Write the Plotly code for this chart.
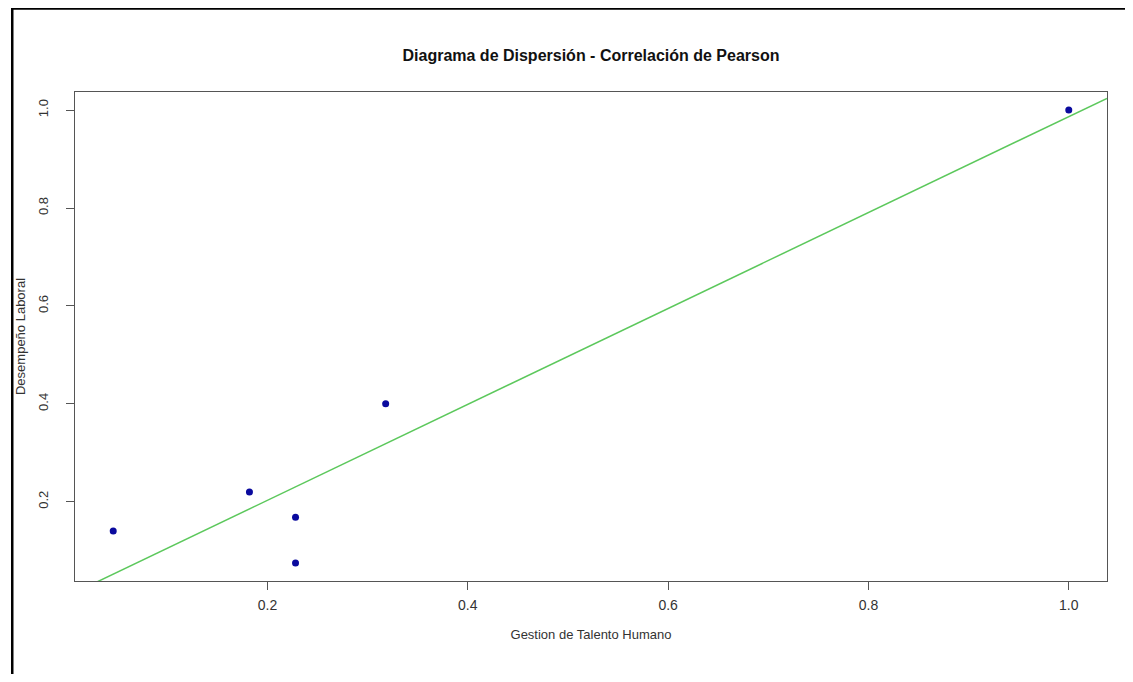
import numpy as np
import plotly.graph_objects as go

# Data
gestion_talento = [0.046, 0.182, 0.228, 0.228, 0.318, 1.0]
desempeno = [0.14, 0.22, 0.168, 0.075, 0.40, 1.0]
tick_vals = [0.2, 0.4, 0.6, 0.8, 1.0]
tick_text = ["0.2", "0.4", "0.6", "0.8", "1.0"]

x = np.array(gestion_talento)
y = np.array(desempeno)

def r_range(v):
    lo, hi = v.min(), v.max()
    d = (hi - lo) * 0.04
    return [lo - d, hi + d]

xr = r_range(x)
yr = r_range(y)

slope, intercept = np.polyfit(x, y, 1)
lx = np.array(xr)
ly = intercept + slope * lx

narrow = "Liberation Sans Narrow, Arial Narrow, Liberation Sans, Arial, sans-serif"
regular = "Liberation Sans, Arial, sans-serif"

fig = go.Figure()
fig.add_trace(go.Scatter(x=lx, y=ly, mode="lines",
                         line=dict(color="#5cc85c", width=1.5),
                         hoverinfo="skip", showlegend=False))
fig.add_trace(go.Scatter(x=x, y=y, mode="markers",
                         marker=dict(color="#0a0a9e", size=7),
                         showlegend=False, cliponaxis=False))

# page body has an 8px margin; keep the figure small enough to avoid scrollbars
W, H = 1117, 666
L, R, T, B = 63, 18, 84, 93
pw, ph = W - L - R, H - T - B

def px(p):
    return (p - L) / pw

def py(p):
    return (H - B - p) / ph

fig.add_shape(type="rect", xref="paper", yref="paper",
              x0=px(0), x1=px(1140), y0=py(0.5), y1=py(700),
              line=dict(color="black", width=2.5), layer="above")

fig.update_layout(
    width=W, height=H,
    margin=dict(l=L, r=R, t=T, b=B),
    plot_bgcolor="white", paper_bgcolor="white",
    title=dict(text="<b>Diagrama de Dispersión - Correlación de Pearson</b>",
               x=0.5, xref="paper", xanchor="center",
               y=1 - 47 / H, yanchor="middle",
               font=dict(family=narrow, size=16, color="#111")),
    xaxis=dict(range=xr, tickvals=tick_vals, ticktext=tick_text,
               showgrid=False, zeroline=False,
               showline=True, mirror=True, linecolor="#555", linewidth=1,
               ticks="outside", ticklen=8, tickcolor="#555",
               ticklabelstandoff=3,
               tickfont=dict(family=narrow, size=14, color="#333"),
               title=dict(text="Gestion de Talento Humano", standoff=18,
                          font=dict(family=narrow, size=13, color="#333"))),
    yaxis=dict(range=yr, tickvals=tick_vals, ticktext=tick_text,
               showgrid=False, zeroline=False,
               showline=True, mirror=True, linecolor="#555", linewidth=1,
               ticks="outside", ticklen=8, tickcolor="#555", tickangle=-90,
               ticklabelstandoff=13,
               tickfont=dict(family=regular, size=13, color="#333"),
               title=dict(text="Desempeño Laboral", standoff=7,
                          font=dict(family=regular, size=13, color="#333"))),
)

fig.write_html("out.html")
